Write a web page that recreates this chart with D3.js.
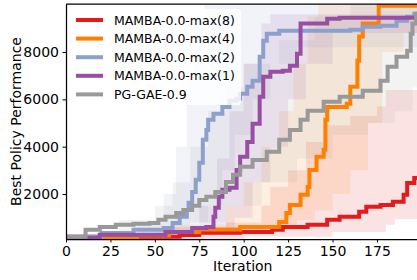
<!DOCTYPE html>
<html lang="en">
<head>
<meta charset="utf-8">
<title>Best policy performance</title>
<script src="https://cdn.jsdelivr.net/npm/d3@7"></script>
<style>
  body { margin: 0; background: #fff; }
  text { font-family: "DejaVu Sans", sans-serif; fill: #000; }
</style>
</head>
<body>
<script>
// series names and colours, in plotting order
var names = ["MAMBA-0.0-max(8)", "MAMBA-0.0-max(4)", "MAMBA-0.0-max(2)", "MAMBA-0.0-max(1)", "PG-GAE-0.9"];
var colors = ["#e41a1c", "#ff7f00", "#8da0cb", "#984ea3", "#999999"];

// mean curves: [iteration, value] breakpoints of a step curve
var red = [[0,150],[30,200],[64,270],[75,360],[98,400],[116,490],[122,610],[136,700],[147,910],[154,1040],[165,1250],[169,1460],[177,1540],[184,1670],[190,1970],[192,2470],[196,2680],[199,2700]];
var orange = [[0,150],[40,250],[58,400],[75,500],[98,610],[115,610],[120,820],[124,1200],[126,1540],[132,1970],[136,2300],[137,3020],[141,3570],[145,3870],[146,5140],[147,5680],[158,5810],[160,6530],[164,7630],[165,8650],[167,9200],[176,9950],[199,9950]];
var blue = [[0,200],[20,350],[38,490],[55,570],[60,780],[64,1040],[68,1330],[69,1630],[71,2090],[73,2600],[75,3320],[77,4290],[79,4710],[80,5140],[83,5390],[88,5680],[92,5940],[96,6020],[98,6240],[102,6530],[105,6790],[109,7800],[111,8480],[113,8770],[120,8900],[160,8940],[167,9070],[177,9110],[186,9320],[192,9490],[196,9620],[199,9700]];
var purple = [[0,150],[19,275],[56,400],[71,570],[79,610],[83,1040],[84,1420],[86,1880],[88,2180],[92,2260],[96,3020],[98,3570],[102,4200],[105,4970],[109,6110],[111,6950],[115,7170],[122,7210],[126,7420],[130,7930],[132,9200],[147,9410],[154,9450],[199,9450]];
var gray = [[0,190],[11,490],[19,610],[28,700],[38,740],[47,780],[52,910],[56,1040],[62,1200],[66,1330],[71,1500],[75,1750],[79,1880],[84,2090],[90,2510],[94,2810],[98,3150],[105,3440],[113,3790],[120,4290],[126,4710],[132,5140],[136,5520],[145,5900],[154,6110],[167,6360],[177,6790],[181,7380],[186,7800],[192,8050],[194,8770],[195,9200],[197,9620],[199,9700]];

// shaded bands: lower and upper step curves
var redLo = [[0,100],[100,200],[150,400],[180,700],[185,950],[199,950]];
var redHi = [[0,300],[50,500],[90,800],[110,1500],[115,2300],[125,3000],[135,4200],[145,4900],[160,5300],[175,5700],[180,6400],[199,6400]];
var orangeLo = [[0,100],[60,300],[100,500],[120,600],[130,900],[140,1300],[150,2000],[160,3000],[170,5000],[178,8000],[190,8800],[199,9200]];
var orangeHi = [[0,300],[60,700],[90,1500],[100,2500],[110,4000],[120,5500],[128,7500],[136,9500],[142,10000],[199,10000]];
var blueLo = [[0,100],[60,300],[75,800],[80,1500],[88,3000],[95,4500],[105,6000],[115,7500],[130,8200],[199,8600]];
var blueHi = [[0,300],[40,800],[55,2000],[62,4000],[68,7000],[72,9500],[78,10000],[199,10000]];
var purpleLo = [[0,100],[70,300],[85,500],[95,1000],[105,2500],[115,4000],[125,6000],[135,7500],[150,8800],[199,9000]];
var purpleHi = [[0,300],[60,600],[75,1500],[85,3500],[92,5500],[100,7500],[110,9200],[115,9600],[199,9700]];
var grayLo = [[0,100],[50,500],[70,800],[90,1500],[110,2500],[130,3500],[150,4500],[170,5000],[185,5500],[195,6500],[199,7000]];
var grayHi = [[0,300],[30,900],[50,1500],[60,2500],[70,4000],[80,5500],[90,6500],[100,7500],[120,8500],[140,9500],[160,10000],[199,10000]];

var xTicks = [0, 25, 50, 75, 100, 125, 150, 175];
var yTicks = [2000, 4000, 6000, 8000];

var series = [red, orange, blue, purple, gray];
var bands = [[redLo, redHi], [orangeLo, orangeHi], [blueLo, blueHi], [purpleLo, purpleHi], [grayLo, grayHi]];

var w = 417, h = 280;
var pL = 66, pR = 419.6, pT = 4, pB = 239;

var x = d3.scaleLinear().domain([0, 199]).range([pL, pR]);
var y = d3.scaleLinear().domain([100, 10028]).range([pB, pT]);

var svg = d3.select("body").append("svg")
    .attr("width", w)
    .attr("height", h);

svg.append("clipPath").attr("id", "plot")
  .append("rect")
    .attr("x", pL).attr("y", pT)
    .attr("width", pR - pL).attr("height", pB - pT);

// value of a step curve at an iteration
function stepAt(pts, it) {
  var v = pts[0][1];
  pts.forEach(function(p) { if (p[0] <= it) v = p[1]; });
  return v;
}

var plot = svg.append("g").attr("clip-path", "url(#plot)");

bands.forEach(function(b, i) {
  var its = d3.sort(Array.from(new Set(b[0].map(function(p) { return p[0]; })
      .concat(b[1].map(function(p) { return p[0]; })))));
  var area = d3.area()
      .curve(d3.curveStepAfter)
      .x(function(d) { return x(d); })
      .y0(function(d) { return y(stepAt(b[0], d)); })
      .y1(function(d) { return y(stepAt(b[1], d)); });
  plot.append("path")
      .attr("d", area(its))
      .attr("fill", colors[i])
      .attr("fill-opacity", 0.12);
});

var line = d3.line()
    .curve(d3.curveStepAfter)
    .x(function(d) { return x(d[0]); })
    .y(function(d) { return y(d[1]); });

series.forEach(function(s, i) {
  plot.append("path")
      .attr("d", line(s))
      .attr("fill", "none")
      .attr("stroke", colors[i])
      .attr("stroke-width", 4);
});

// axes
var xAxis = svg.append("g")
    .attr("transform", "translate(0," + pB + ")")
    .call(d3.axisBottom(x).tickValues(xTicks).tickSize(3.5).tickPadding(3.5).tickSizeOuter(0));
var yAxis = svg.append("g")
    .attr("transform", "translate(" + pL + ",0)")
    .call(d3.axisLeft(y).tickValues(yTicks).tickFormat(d3.format("d")).tickSize(3.5).tickPadding(3.5).tickSizeOuter(0));

[xAxis, yAxis].forEach(function(a) {
  a.selectAll("text").style("font-size", "14px").style("font-family", "DejaVu Sans, sans-serif").attr("fill", "#000");
  a.selectAll("line").attr("stroke", "#000");
  a.select(".domain").attr("stroke", "#000").attr("stroke-width", 1.25);
});

// top spine
svg.append("line")
    .attr("x1", pL).attr("x2", pR)
    .attr("y1", pT).attr("y2", pT)
    .attr("stroke", "#000").attr("stroke-width", 1.25);

svg.append("text")
    .attr("x", (pL + pR) / 2)
    .attr("y", 271)
    .attr("text-anchor", "middle")
    .style("font-size", "14px")
    .text("Iteration");

svg.append("text")
    .attr("transform", "translate(21," + (pT + pB) / 2 + ") rotate(-90)")
    .attr("text-anchor", "middle")
    .style("font-size", "14px")
    .text("Best Policy Performance");

// legend
var legend = svg.append("g");
legend.append("rect")
    .attr("x", 71).attr("y", 9)
    .attr("width", 170).attr("height", 96)
    .attr("rx", 3)
    .attr("fill", "#fff")
    .attr("fill-opacity", 0.8);

names.forEach(function(n, i) {
  var ly = 20 + i * 18.6;
  legend.append("line")
      .attr("x1", 76).attr("x2", 103)
      .attr("y1", ly).attr("y2", ly)
      .attr("stroke", colors[i])
      .attr("stroke-width", 4);
  legend.append("text")
      .attr("x", 114)
      .attr("y", ly)
      .attr("dy", "0.36em")
      .style("font-size", "12.5px")
      .text(n);
});
</script>
</body>
</html>
